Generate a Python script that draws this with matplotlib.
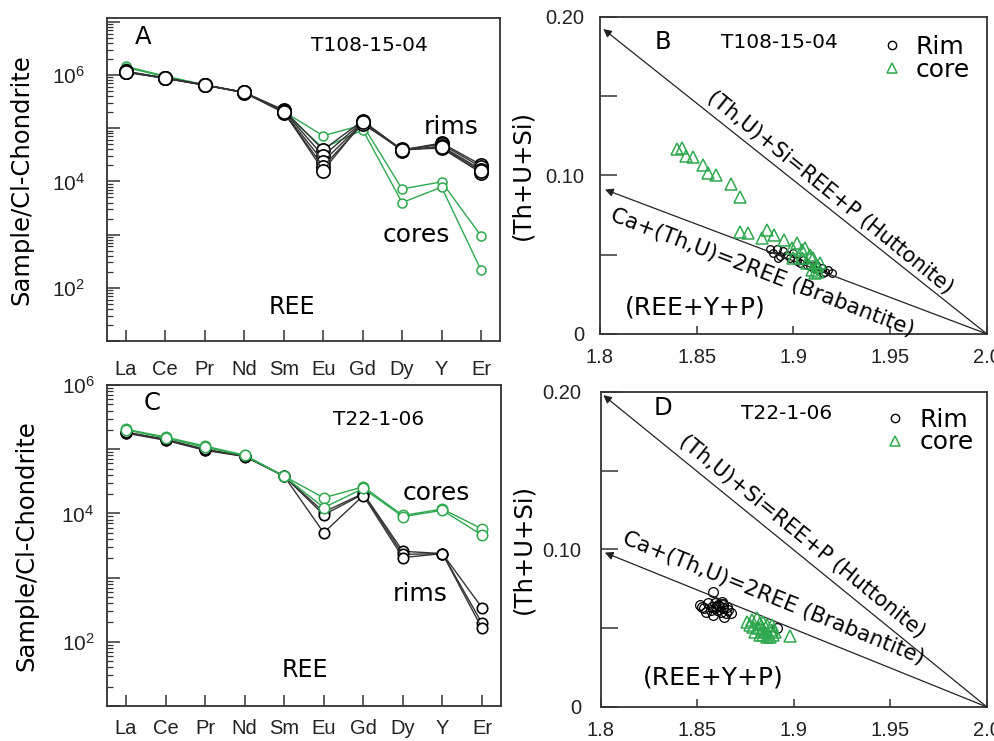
import numpy as np
import matplotlib
matplotlib.use("Agg")
import matplotlib.pyplot as plt
from matplotlib.ticker import LogLocator, FuncFormatter, FixedLocator, NullFormatter
from matplotlib.lines import Line2D

plt.rcParams['font.family'] = ['DejaVu Sans']
plt.rcParams['mathtext.fontset'] = 'custom'
plt.rcParams['mathtext.rm'] = 'Liberation Sans'

# ---------------- data ----------------
elements = ['La', 'Ce', 'Pr', 'Nd', 'Sm', 'Eu', 'Gd', 'Dy', 'Y', 'Er']

# Panel A (T108-15-04) chondrite-normalised REE
A_rims = [
    [1.15e6, 8.7e5, 6.5e5, 4.7e5, 2.2e5, 3.9e4, 1.38e5, 3.9e4, 5.25e4, 2.05e4],
    [1.12e6, 8.6e5, 6.4e5, 4.7e5, 2.1e5, 3.0e4, 1.32e5, 3.9e4, 5.0e4, 1.86e4],
    [1.15e6, 8.7e5, 6.5e5, 4.6e5, 2.0e5, 2.35e4, 1.26e5, 3.8e4, 4.6e4, 1.66e4],
    [1.17e6, 8.8e5, 6.5e5, 4.7e5, 1.95e5, 1.9e4, 1.2e5, 4.0e4, 4.2e4, 1.45e4],
    [1.14e6, 8.7e5, 6.4e5, 4.7e5, 2.05e5, 1.6e4, 1.29e5, 3.9e4, 4.4e4, 1.55e4],
]
A_cores = [
    [1.45e6, 9.5e5, 6.5e5, 4.7e5, 2.05e5, 7.2e4, 1.15e5, 7.2e3, 9.8e3, 9.5e2],
    [1.38e6, 9.3e5, 6.5e5, 4.7e5, 2.0e5, 4.2e4, 9.3e4, 4.0e3, 7.8e3, 2.15e2],
]

# Panel C (T22-1-06)
C_rims = [
    [1.82e5, 1.41e5, 9.8e4, 7.8e4, 3.8e4, 1.05e4, 2.05e4, 2.57e3, 2.37e3, 340],
    [1.78e5, 1.38e5, 9.6e4, 7.7e4, 3.8e4, 9.5e3, 2.0e4, 2.3e3, 2.37e3, 195],
    [1.85e5, 1.43e5, 1.0e5, 7.9e4, 3.8e4, 5.0e3, 1.9e4, 2.05e3, 2.37e3, 162],
]
C_cores = [
    [2.05e5, 1.55e5, 1.12e5, 8.1e4, 3.8e4, 1.75e4, 2.6e4, 9.3e3, 1.17e4, 5.75e3],
    [2.0e5, 1.5e5, 1.07e5, 8.0e4, 3.8e4, 1.23e4, 2.45e4, 8.9e3, 1.12e4, 4.6e3],
]

# Panel B scatter (x = REE+Y+P, y = Th+U+Si)
B_rim_x = [1.8879, 1.8896, 1.8913, 1.8930, 1.8947, 1.8965, 1.8982, 1.8999, 1.9016, 1.9034,
           1.9051, 1.9068, 1.9085, 1.9102, 1.9128, 1.9145, 1.9163, 1.9180, 1.9197, 1.9154,
           1.9119, 1.8922]
B_rim_y = [0.0536, 0.0511, 0.0536, 0.0489, 0.0521, 0.0500, 0.0479, 0.0511, 0.0458, 0.0447,
           0.0468, 0.0437, 0.0426, 0.0416, 0.0405, 0.0416, 0.0394, 0.0405, 0.0384, 0.0384,
           0.0437, 0.0479]
B_core_x = [1.8396, 1.8422, 1.8443, 1.8479, 1.8534, 1.8560, 1.8598, 1.8677, 1.8723,
            1.8724, 1.8763, 1.8836, 1.8865, 1.8899, 1.8951, 1.9016, 1.8991, 1.9042, 1.9059,
            1.9085, 1.9102, 1.8999, 1.9068, 1.9120, 1.9128, 1.9094, 1.9111, 1.9042, 1.9137]
B_core_y = [0.1165, 0.1175, 0.1122, 0.1118, 0.1065, 0.1017, 0.1002, 0.0947, 0.0865,
            0.0641, 0.0637, 0.0606, 0.0658, 0.0627, 0.0595, 0.0574, 0.0542, 0.0532, 0.0542,
            0.0500, 0.0479, 0.0479, 0.0447, 0.0426, 0.0394, 0.0405, 0.0384, 0.0479, 0.0447]

# Panel D scatter
D_rim_x = [1.8513, 1.8534, 1.8556, 1.8573, 1.8591, 1.8599, 1.8613, 1.8625, 1.8634, 1.8648,
           1.8660, 1.8637, 1.8582, 1.8544, 1.8608, 1.8620, 1.8568, 1.8651, 1.8672, 1.8522,
           1.8596, 1.8630, 1.8578, 1.8910]
D_rim_y = [0.0648, 0.0627, 0.0658, 0.0637, 0.0662, 0.0616, 0.0641, 0.0669, 0.0627, 0.0595,
           0.0616, 0.0574, 0.0584, 0.0605, 0.0648, 0.0605, 0.0616, 0.0637, 0.0599, 0.0637,
           0.0633, 0.0654, 0.0728, 0.0500]
D_core_x = [1.8755, 1.8781, 1.8807, 1.8824, 1.8841, 1.8859, 1.8789, 1.8815, 1.8832, 1.8850,
            1.8867, 1.8884, 1.8893, 1.8798, 1.8841, 1.8876, 1.8901, 1.8824, 1.8859, 1.8979,
            1.8772, 1.8884]
D_core_y = [0.0542, 0.0552, 0.0563, 0.0531, 0.0542, 0.0521, 0.0510, 0.0500, 0.0489, 0.0478,
            0.0468, 0.0489, 0.0457, 0.0478, 0.0457, 0.0447, 0.0478, 0.0457, 0.0447, 0.0451,
            0.0521, 0.0521]

# substitution vectors (start at 2.0, 0)
vec_origin = (2.0, 0.0)
B_huttonite_tip = (1.8017, 0.1924)
B_brabantite_tip = (1.8026, 0.0911)
D_huttonite_tip = (1.8012, 0.1980)
D_brabantite_tip = (1.8020, 0.0980)

GREEN = '#2ea84f'
DARK = '#333333'

fig = plt.figure(figsize=(9.94, 7.41), dpi=100)
axA = fig.add_axes([0.1076, 0.5398, 0.3954, 0.4359])
axC = fig.add_axes([0.1076, 0.0472, 0.3964, 0.4332])
axB = fig.add_axes([0.6036, 0.5493, 0.3893, 0.4278])
axD = fig.add_axes([0.6046, 0.0459, 0.3883, 0.4251])

def style_spines(ax):
    for s in ax.spines.values():
        s.set_color(DARK)
        s.set_linewidth(1.3)

def log_fmt(v, pos):
    e = int(round(np.log10(v)))
    if e % 2 == 0:
        return r'$\mathregular{10^{%d}}$' % e
    return ''

def ree_panel(ax, rims, cores, ylim, rims_on_top, xpad, ypad, ylab_x):
    x = np.arange(len(elements))
    zr, zc = (3, 2) if rims_on_top else (2, 3)
    for row in cores:
        ax.plot(x, row, '-o', color=GREEN, lw=1.0, ms=6.5 if rims_on_top else 7.5,
                mfc='white', mec=GREEN, mew=1.1, zorder=zc)
    for row in rims:
        ax.plot(x, row, '-o', color=DARK, lw=1.0, ms=9.5 if rims_on_top else 7.5,
                mfc='white', mec='black', mew=1.2, zorder=zr)
    ax.set_yscale('log')
    ax.set_ylim(*ylim)
    ax.set_xlim(-0.48, 9.48)
    ax.set_xticks(x)
    ax.set_xticklabels(elements, family='Liberation Sans', fontsize=14.5, color='#222222')
    ax.yaxis.set_major_locator(LogLocator(base=10, numticks=12))
    ax.yaxis.set_minor_locator(LogLocator(base=10, subs=np.arange(2, 10), numticks=12))
    ax.yaxis.set_major_formatter(FuncFormatter(log_fmt))
    ax.yaxis.set_minor_formatter(NullFormatter())
    ax.tick_params(axis='y', which='major', direction='in', length=9, width=1.1,
                   colors=DARK, labelsize=15, labelcolor='#222222', pad=ypad)
    ax.tick_params(axis='y', which='minor', direction='in', length=4, width=0.9, colors=DARK)
    ax.tick_params(axis='x', direction='in', length=8, width=1.1, colors=DARK,
                   labelcolor='#222222', pad=xpad)
    ax.set_ylabel('Sample/Cl-Chondrite', fontsize=17.5)
    ax.yaxis.set_label_coords(ylab_x, 0.5)
    style_spines(ax)

ree_panel(axA, A_rims, A_cores, (10**1.0, 10**7.07), True, 14, 16, -0.188)
ree_panel(axC, C_rims, C_cores, (10, 1e6), False, 9, 9, -0.175)

for lab in axA.get_yticklabels() + axC.get_yticklabels():
    lab.set_family('Liberation Sans')

axA.text(0.092, 0.941, 'A', transform=axA.transAxes, fontsize=17.5, ha='center', va='center')
axA.text(0.669, 0.916, 'T108-15-04', transform=axA.transAxes, fontsize=14.5, ha='center', va='center')
axA.text(0.877, 0.663, 'rims', transform=axA.transAxes, fontsize=18, ha='center', va='center')
axA.text(0.788, 0.328, 'cores', transform=axA.transAxes, fontsize=18, ha='center', va='center')
axA.text(0.471, 0.106, 'REE', transform=axA.transAxes, fontsize=17, ha='center', va='center')

axC.text(0.115, 0.943, 'C', transform=axC.transAxes, fontsize=17.5, ha='center', va='center')
axC.text(0.689, 0.893, 'T22-1-06', transform=axC.transAxes, fontsize=14.5, ha='center', va='center')
axC.text(0.835, 0.665, 'cores', transform=axC.transAxes, fontsize=18, ha='center', va='center')
axC.text(0.796, 0.349, 'rims', transform=axC.transAxes, fontsize=18, ha='center', va='center')
axC.text(0.503, 0.112, 'REE', transform=axC.transAxes, fontsize=17, ha='center', va='center')


def subst_panel(ax, rx, ry, cx, cy, hut_tip, bra_tip, letter, sample, letter_pos, sample_pos,
                hut_txt, bra_txt, ree_pos, ypad, rim_ms, core_ms, leg_anchor):
    ax.plot(rx, ry, 'o', ls='none', mfc='none', mec='black', mew=0.9, ms=rim_ms, zorder=3)
    ax.plot(cx, cy, '^', ls='none', mfc='none', mec=GREEN, mew=1.1, ms=core_ms, zorder=4)
    for tip in (hut_tip, bra_tip):
        ax.annotate('', xy=tip, xytext=vec_origin,
                    arrowprops=dict(arrowstyle='-|>', color='#222222', lw=0.9,
                                    mutation_scale=12, shrinkA=0, shrinkB=0))
    ax.set_xlim(1.8, 2.0)
    ax.set_ylim(0, 0.2)
    ax.xaxis.set_major_locator(FixedLocator([1.8, 1.85, 1.9, 1.95, 2.0]))
    ax.set_xticklabels(['1.8', '1.85', '1.9', '1.95', '2.0'], family='Liberation Sans',
                       fontsize=14.5, color='#222222')
    ax.yaxis.set_major_locator(FixedLocator([0, 0.05, 0.10, 0.15, 0.20]))
    ax.set_yticklabels(['0', '', '0.10', '', '0.20'], family='Liberation Sans',
                       fontsize=14.5, color='#222222')
    ax.tick_params(axis='x', direction='in', length=6, width=1.1, colors=DARK,
                   labelcolor='#222222', pad=10)
    ax.tick_params(axis='y', direction='in', length=12, width=1.1, colors=DARK,
                   labelcolor='#222222', pad=ypad)
    ax.set_ylabel('(Th+U+Si)', fontsize=17.5)
    ax.yaxis.set_label_coords(-0.17, 0.5)
    style_spines(ax)
    ax.text(*letter_pos, letter, fontsize=17.5, ha='center', va='center')
    ax.text(*sample_pos, sample, fontsize=14.5, ha='center', va='center')
    ax.text(hut_txt[0], hut_txt[1], '(Th,U)+Si=REE+P (Huttonite)', rotation=hut_txt[2],
            rotation_mode='anchor', fontsize=15, ha='center', va='center')
    ax.text(bra_txt[0], bra_txt[1], 'Ca+(Th,U)=2REE (Brabantite)', rotation=bra_txt[2],
            rotation_mode='anchor', fontsize=15.5, ha='center', va='center')
    ax.text(*ree_pos, '(REE+Y+P)', fontsize=18, ha='center', va='center')
    handles = [Line2D([], [], marker='o', ls='none', mfc='none', mec='black', mew=1.0, ms=6),
               Line2D([], [], marker='^', ls='none', mfc='none', mec=GREEN, mew=1.1, ms=7)]
    ax.legend(handles, ['Rim', 'core'], loc='upper right', bbox_to_anchor=leg_anchor,
              frameon=False, fontsize=18, handlelength=1.0, handletextpad=0.45,
              labelspacing=-0.05, borderaxespad=0.0, borderpad=0.0)

subst_panel(axB, B_rim_x, B_rim_y, B_core_x, B_core_y, B_huttonite_tip, B_brabantite_tip,
            'B', 'T108-15-04', (1.8326, 0.184), (1.893, 0.184),
            (1.9189, 0.0890, -39), (1.884, 0.0386, -21), (1.849, 0.017), 11, 5.5, 9,
            (0.955, 0.943))
subst_panel(axD, D_rim_x, D_rim_y, D_core_x, D_core_y, D_huttonite_tip, D_brabantite_tip,
            'D', 'T22-1-06', (1.832, 0.190), (1.8962, 0.1865),
            (1.904, 0.1081, -39), (1.8893, 0.069, -22), (1.858, 0.019), 14, 7, 9,
            (0.965, 0.95))

fig.savefig('out.png', dpi=100)
